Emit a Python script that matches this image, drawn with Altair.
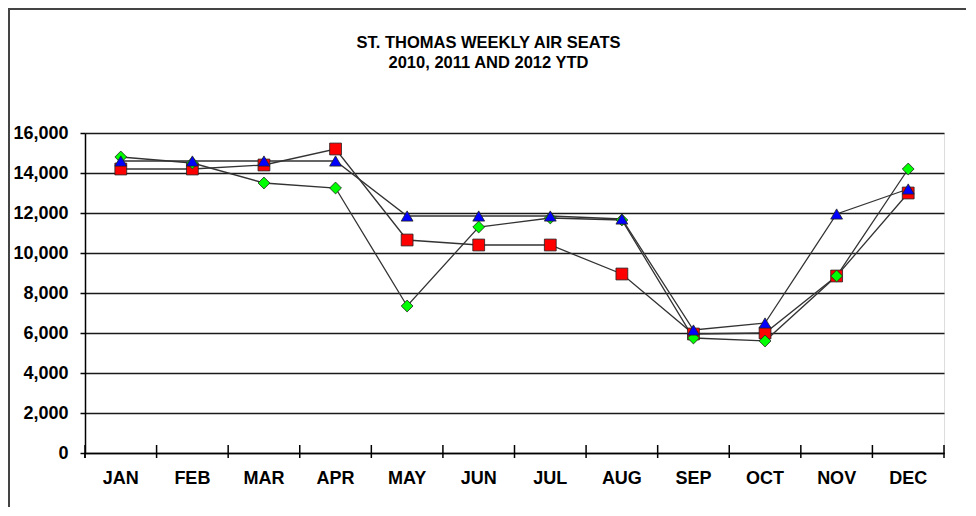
import altair as alt
import pandas as pd

months = ["JAN", "FEB", "MAR", "APR", "MAY", "JUN", "JUL", "AUG", "SEP", "OCT", "NOV", "DEC"]
series_names = ["2010", "2011", "2012 YTD"]
red_vals = [14200, 14200, 14400, 15200, 10650, 10400, 10400, 8950, 5950, 6000, 8850, 13000]
green_vals = [14800, 14500, 13500, 13250, 7350, 11300, 11750, 11650, 5750, 5600, 8850, 14200]
blue_vals = [14600, 14600, 14600, 14600, 11850, 11850, 11850, 11700, 6150, 6500, 11950, 13200]
series_colors = ["#FF0000", "#00FF00", "#0000FF"]
series_shapes = ["square", "diamond", "triangle-up"]
y_ticks = [0, 2000, 4000, 6000, 8000, 10000, 12000, 14000, 16000]
title_lines = ["ST. THOMAS WEEKLY AIR SEATS", "2010, 2011 AND 2012 YTD"]

rows = []
for name, vals in zip(series_names, [red_vals, green_vals, blue_vals]):
    for i, (m, v) in enumerate(zip(months, vals)):
        rows.append({"month": m, "idx": i, "seats": v, "series": name})
df = pd.DataFrame(rows)
ticks_df = pd.DataFrame({"month": months})
last_df = pd.DataFrame({"month": months[-1:]})

W, H = 859, 320
FONT = "Liberation Sans"

x_axis = alt.Axis(title=None, ticks=False, labelAngle=0, labelFont=FONT,
                  labelFontSize=18, labelFontWeight="bold", labelColor="black",
                  labelPadding=16, domainColor="black", domainWidth=1.5, grid=False)
x_scale = alt.Scale(paddingInner=0, paddingOuter=0)


def mk_x(bp=None):
    if bp is None:
        return alt.X("month:N", sort=months, scale=x_scale, axis=x_axis)
    return alt.X("month:N", sort=months, scale=x_scale, axis=x_axis, bandPosition=bp)


yenc = alt.Y("seats:Q",
             scale=alt.Scale(domain=[0, 16000], nice=False),
             axis=alt.Axis(title=None, values=y_ticks, format=",d", labelFont=FONT,
                           labelFontSize=18, labelFontWeight="bold", labelColor="black",
                           labelPadding=12, tickSize=5, tickColor="black", tickWidth=1.5,
                           labelOverlap=False, labelFlush=False,
                           domainColor="black", domainWidth=1.5,
                           grid=True, gridColor="#1a1a1a", gridWidth=1.5))
cenc = alt.Color("series:N", scale=alt.Scale(domain=series_names, range=series_colors), legend=None)
senc = alt.Shape("series:N", scale=alt.Scale(domain=series_names, range=series_shapes), legend=None)

base = alt.Chart(df)
lines = base.mark_line(color="#333333", strokeWidth=1.3).encode(
    x=mk_x(), y=yenc, detail="series:N", order=alt.Order("idx:Q")
)
points = base.mark_point(filled=True, size=140, stroke="#222222", strokeWidth=0.8, opacity=1).encode(
    x=mk_x(), y=yenc, color=cenc, shape=senc
)

xticks = alt.Chart(ticks_df).mark_rule(color="black", strokeWidth=1.5).encode(
    x=mk_x(0), y=alt.value(H - 8), y2=alt.value(H + 5)
)
xtick_last = alt.Chart(last_df).mark_rule(color="black", strokeWidth=1.5).encode(
    x=mk_x(1), y=alt.value(H - 8), y2=alt.value(H + 5)
)
yext = alt.Chart(last_df).mark_rule(color="black", strokeWidth=1.5).encode(
    x=alt.value(0), y=alt.value(H), y2=alt.value(H + 5)
)
left_border = alt.Chart(last_df).mark_rule(color="#444444", strokeWidth=2).encode(
    x=alt.value(-76), y=alt.value(-124), y2=alt.value(H + 54)
)
top_border = alt.Chart(last_df).mark_rule(color="#444444", strokeWidth=2).encode(
    x=alt.value(-77), x2=alt.value(W + 40), y=alt.value(-124)
)

chart = alt.layer(left_border, top_border, lines, points, xticks, xtick_last, yext).properties(
    width=W, height=H,
    autosize=alt.AutoSizeParams(type="none"),
    padding={"left": 77, "top": 125, "right": 22, "bottom": 54},
    title=alt.TitleParams(text=title_lines, font=FONT, fontSize=16.5, fontWeight="bold",
                          color="black", anchor="middle", dx=-26, offset=-63, lineHeight=20),
).configure_view(stroke=None).configure(background="white")

chart.save("out.html", embed_options={"renderer": "svg", "actions": False})
